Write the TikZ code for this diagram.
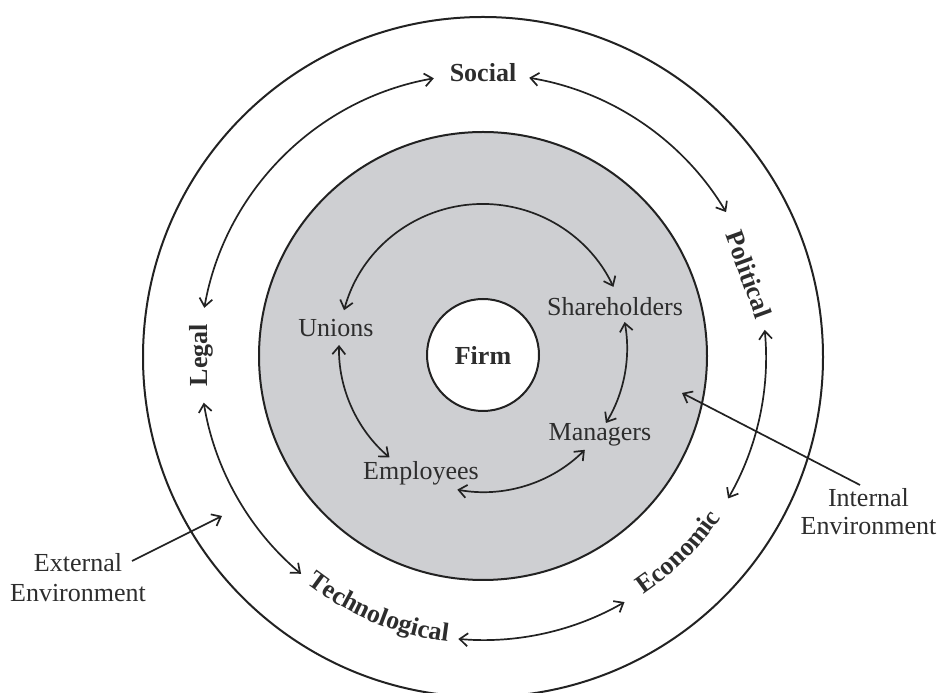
\documentclass[tikz,border=0pt]{standalone}
\usepackage{fontspec}
\setmainfont{Liberation Serif}
\usetikzlibrary{arrows.meta,decorations.text,calc}
\definecolor{ink}{RGB}{34,34,34}
\definecolor{txt}{RGB}{45,45,45}
\definecolor{ringgray}{RGB}{206,207,210}
\begin{document}
\begin{tikzpicture}[x=1pt,y=1pt,
  ring/.style={draw=ink,line width=2pt},
  link/.style={draw=ink,line width=1.7pt,{Straight Barb[length=8pt,width=13pt]}-{Straight Barb[length=8pt,width=13pt]}},
  pointer/.style={draw=ink,line width=1.7pt,-{Straight Barb[length=8pt,width=13pt]}},
  lab/.style={text=txt,font=\fontsize{26}{30}\selectfont,inner sep=0pt},
  blab/.style={text=txt,font=\fontsize{26}{30}\selectfont\bfseries,inner sep=0pt}]
\useasboundingbox (0,0) rectangle (940,693);
\coordinate (C) at (483,336);
\coordinate (G) at (483,337);
\coordinate (I) at (483,345);
% circles
\draw[ring] (C) circle[radius=340];
\draw[ring,fill=ringgray] (G) circle[radius=224];
\node[circle,ring,fill=white,minimum size=112pt,blab] (firm) at (483,338) {Firm};
% external labels
\node[blab] (social) at (483,620) {Social};
\node[blab,rotate=90] (legal) at (201,338) {Legal};
\node[blab,rotate=-70] (political) at (749,419) {Political};
\path (C) ++(-140:287) coordinate (techA);
\path[decorate,decoration={text along path,text align=center,
  text={|\color{txt}\fontsize{26}{30}\selectfont\bfseries|Technological}}]
  (techA) arc[start angle=-140,end angle=-85,radius=287];
\path (C) ++(-75:287) coordinate (econA);
\path[decorate,decoration={text along path,text align=center,
  text={|\color{txt}\fontsize{26}{30}\selectfont\bfseries|Economic}}]
  (econA) arc[start angle=-75,end angle=-15,radius=287];
% internal labels
\node[lab] (unions) at (336,365) {Unions};
\node[lab] (share) at (615,386) {Shareholders};
\node[lab] (managers) at (600,258) {Managers};
\node[lab] (employees) at (421,220) {Employees};
% outer ring arrows
\path (C) ++(100:283) coordinate (sl);
\draw[link] (sl) arc[start angle=100,end angle=170,radius=283];
\path (C) ++(80.6:283) coordinate (sp);
\draw[link] (sp) arc[start angle=80.6,end angle=30.8,radius=283];
\path (C) ++(5.5:283) coordinate (pe);
\draw[link] (pe) arc[start angle=5.5,end angle=-30,radius=283];
\path (C) ++(-60:283) coordinate (et);
\draw[link] (et) arc[start angle=-60,end angle=-95,radius=283];
\path (C) ++(-130:283) coordinate (tl);
\draw[link] (tl) arc[start angle=-130,end angle=-170.7,radius=283];
% inner ring arrows
\path (I) ++(164.8:144) coordinate (us);
\draw[link] (us) arc[start angle=164.8,end angle=25.1,radius=144];
\path (I) ++(10.4:144) coordinate (sm);
\draw[link] (sm) arc[start angle=10.4,end angle=-31.4,radius=144];
\path (I) ++(-45:144) coordinate (me);
\draw[link] (me) arc[start angle=-45,end angle=-100.3,radius=144];
\path (I) ++(-130.5:144) coordinate (eu);
\draw[link] (eu) arc[start angle=-130.5,end angle=-181.2,radius=144];
% environment labels and pointers
\node[lab,align=center] (ext) at (78,115) {External\\Environment};
\node[lab,align=center] (int) at (868.5,181) {Internal\\[-2pt]Environment};
\coordinate (extS) at (132,132);
\coordinate (extT) at (222,177);
\draw[pointer] (extS) -- (extT);
\coordinate (intS) at (860,208);
\coordinate (intT) at (682,300);
\draw[pointer] (intS) -- (intT);
\end{tikzpicture}
\end{document}
